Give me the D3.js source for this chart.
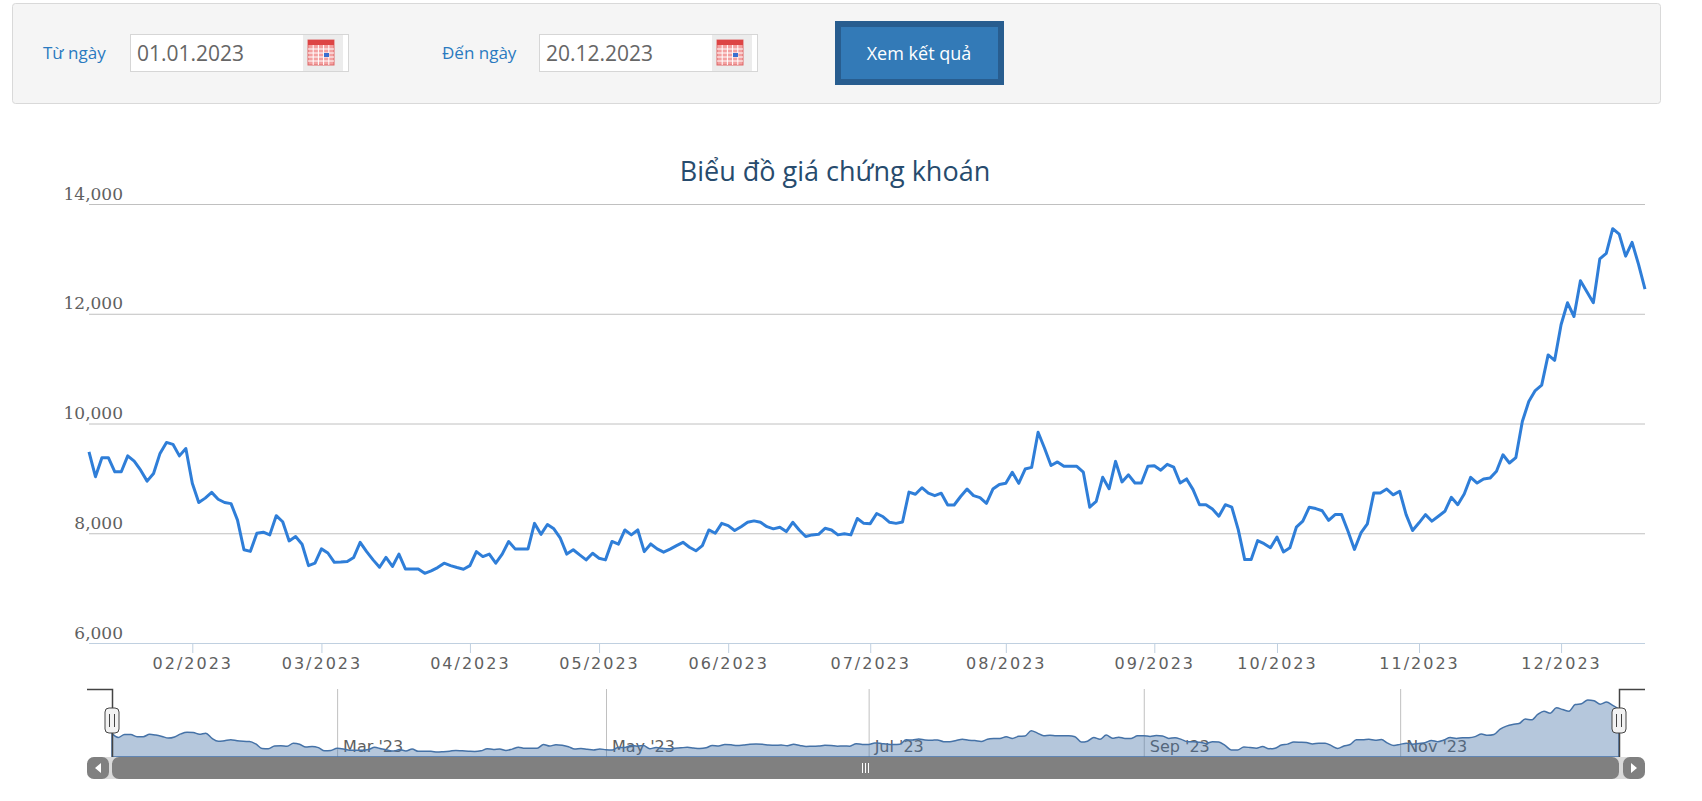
<!DOCTYPE html>
<html><head><meta charset="utf-8">
<script src="https://cdn.jsdelivr.net/npm/d3@7"></script>
<style>
body{margin:0;background:#fff;font-family:"DejaVu Sans",sans-serif;}
svg{display:block}
</style></head><body>
<svg id="c" width="1702" height="801"></svg>
<script>
// ---- data ----
const fromLabel = "Từ ngày", toLabel = "Đến ngày", fromDate = "01.01.2023", toDate = "20.12.2023";
const buttonLabel = "Xem kết quả";
const title = "Biểu đồ giá chứng khoán";
const yTicks = [6000, 8000, 10000, 12000, 14000];
const holidays = ["2023-01-02","2023-01-20","2023-01-23","2023-01-24","2023-01-25","2023-01-26",
  "2023-05-01","2023-05-02","2023-05-03","2023-09-01","2023-09-04"];
const navLabels = ["Mar '23","May '23","Jul '23","Sep '23","Nov '23"];
const prices = [
 9485,9030,9376,9376,9120,9120,9410,9315,9150,8950,9090,9455,9655,9620,9410,9545,
 8910,8560,8640,8745,8620,8560,8540,8240,7700,7670,8000,8020,7970,8320,8210,7860,7940,7800,7410,7455,
 7715,7640,7470,7475,7485,7560,7835,7665,7515,7380,7560,7395,7620,7350,7350,7350,7270,7315,7375,7455,7410,7375,7345,
 7410,7665,7575,7620,7455,7620,7850,7715,7715,7715,8180,7980,8160,8080,7910,7620,7700,7605,7515,7635,
 7545,7515,7850,7800,8060,7970,8060,7665,7805,7715,7655,7710,7775,7835,7745,7680,7775,8060,8000,8180,
 8140,8050,8120,8200,8225,8200,8120,8080,8110,8030,8200,8060,7940,7970,7980,8090,8060,7970,7990,7970,8270,8180,
 8175,8360,8300,8200,8180,8205,8750,8710,8830,8730,8685,8730,8515,8515,8670,8805,8685,8650,8545,8805,8890,
 8910,9110,8910,9170,9200,9840,9550,9235,9300,9220,9220,9220,9115,8475,8580,9020,8810,9310,8935,9065,8915,8915,9220,
 9230,9150,9255,9205,8915,8990,8795,8520,8520,8440,8310,8520,8475,8065,7520,7520,7865,7810,7735,
 7930,7660,7735,8110,8220,8475,8450,8410,8235,8340,8340,8035,7705,8005,8170,8735,8735,8805,8700,8765,8340,8050,
 8190,8340,8220,8310,8400,8655,8520,8715,9020,8915,8990,9005,9130,9430,9280,9380,10035,10400,10600,10700,11250,11150,
 11800,12200,11950,12600,12400,12200,13000,13100,13550,13450,13050,13300,12900,12450
];
// trading dates (weekdays minus holidays)
const dates = [];
for (let d = new Date(Date.UTC(2023,0,1)); d <= new Date(Date.UTC(2023,11,20)); d = new Date(d.getTime()+864e5)) {
  const wd = d.getUTCDay(), s = d.toISOString().slice(0,10);
  if (wd>0 && wd<6 && !holidays.includes(s)) dates.push(d);
}
const n = Math.min(dates.length, prices.length);
const data = d3.range(n).map(i => ({i, date: dates[i], v: prices[i]}));
const monthStarts = data.filter((d,k) => k>0 && d.date.getUTCMonth() !== data[k-1].date.getUTCMonth());

const svg = d3.select("#c");
// ---- form panel ----
svg.append("rect").attr("x",12.5).attr("y",3.5).attr("width",1648).attr("height",100).attr("rx",3)
  .attr("fill","#f5f5f5").attr("stroke","#d9d9d9");
function field(lx, label, ix, val){
  svg.append("text").attr("x",lx).attr("y",59).attr("fill","#2a7ac0").attr("font-size",17)
    .attr("font-family","Open Sans, sans-serif").text(label);
  svg.append("rect").attr("x",ix+.5).attr("y",34.5).attr("width",218).attr("height",37).attr("fill","#fff").attr("stroke","#d6d6d6");
  svg.append("text").attr("x",ix+7).attr("y",61).attr("fill","#666").attr("font-size",21)
    .attr("font-family","Open Sans, sans-serif").text(val);
  const cx = ix+178, g = svg.append("g");
  g.append("rect").attr("x",cx-5).attr("y",35).attr("width",40).attr("height",36).attr("fill","#ececec");
  g.append("rect").attr("x",cx).attr("y",40).attr("width",26).attr("height",25).attr("fill","#f3a0a0").attr("stroke","#d66","stroke-width",1);
  g.append("rect").attr("x",cx).attr("y",40).attr("width",26).attr("height",5).attr("fill","#d44");
  for(let k=1;k<5;k++){g.append("line").attr("x1",cx+k*5.2).attr("x2",cx+k*5.2).attr("y1",45).attr("y2",65).attr("stroke","#fff");
    g.append("line").attr("x1",cx).attr("x2",cx+26).attr("y1",45+k*4).attr("y2",45+k*4).attr("stroke","#fff");}
  g.append("rect").attr("x",cx+16).attr("y",53).attr("width",5).attr("height",4).attr("fill","#3a6fd0");
}
field(43, fromLabel, 130, fromDate);
field(442, toLabel, 539, toDate);
svg.append("rect").attr("x",835).attr("y",21).attr("width",169).attr("height",64).attr("fill","#285d8f");
svg.append("rect").attr("x",841).attr("y",27).attr("width",157).attr("height",52).attr("fill","#337ab7");
svg.append("text").attr("x",919).attr("y",60).attr("text-anchor","middle").attr("fill","#fff").attr("font-size",18)
  .attr("font-family","Open Sans, sans-serif").text(buttonLabel);

// ---- main chart ----
const x = d3.scaleLinear().domain([0, n-1]).range([89, 1645]);
const y = d3.scaleLinear().domain([6000, 14000]).range([643, 204]);
svg.append("text").attr("x",835).attr("y",181).attr("text-anchor","middle").attr("fill","#274b6d")
  .attr("font-size",27).attr("font-family","Open Sans, sans-serif").text(title);
const gy = svg.append("g").attr("transform","translate(1645,0)")
  .call(d3.axisLeft(y).tickValues(yTicks).tickSize(1556).tickFormat(d3.format(",")));
gy.select(".domain").remove();
gy.selectAll("line").attr("stroke","#c0c0c0");
gy.selectAll("line").filter(d=>d===6000).attr("stroke","#c0d0e0");
gy.selectAll("text").attr("x",-1522).attr("dy",-5).attr("text-anchor","end").attr("fill","#606060")
  .attr("font-size",17).attr("font-family","DejaVu Serif, serif");
const gx = svg.append("g").attr("transform","translate(0,643)")
  .call(d3.axisBottom(x).tickValues(monthStarts.map(d=>d.i)).tickSize(10)
    .tickFormat(i => d3.utcFormat("%m/%Y")(dates[i])));
gx.select(".domain").attr("stroke","#c0d0e0").attr("d","M89,0.5H1645");
gx.selectAll("line").attr("stroke","#c0d0e0");
gx.selectAll("text").attr("y",14).attr("dy","0.75em").attr("fill","#606060").attr("font-size",16)
  .attr("letter-spacing","2px").attr("font-family","DejaVu Sans, sans-serif");
svg.append("path").datum(data).attr("fill","none").attr("stroke","#2f7ed8").attr("stroke-width",3)
  .attr("stroke-linejoin","round")
  .attr("d", d3.line().x(d=>x(d.i)).y(d=>y(d.v)));

// ---- navigator ----
const xn = d3.scaleLinear().domain([0, n-1]).range([112, 1619]);
const yn = d3.scaleLinear().domain(d3.extent(prices)).range([752, 700]);
const navLines = monthStarts.filter((d,k)=>k%2===1);
navLines.forEach((d,k)=>{
  svg.append("line").attr("x1",xn(d.i)+.5).attr("x2",xn(d.i)+.5).attr("y1",689).attr("y2",757).attr("stroke","#c0c0c0");
  svg.append("text").attr("x",xn(d.i)+6).attr("y",752).attr("fill","#606060").attr("font-size",16)
    .attr("font-family","DejaVu Sans, sans-serif").text(navLabels[k]);
});
svg.append("path").datum(data).attr("fill","rgba(69,114,167,0.4)").attr("stroke","#4572a7").attr("stroke-width",1.5)
  .attr("d", d3.area().x(d=>xn(d.i)).y0(757).y1(d=>yn(d.v)).curve(d3.curveMonotoneX));
svg.append("path").attr("d","M87,689.5H112.5V757M1619.5,757V689.5H1645").attr("fill","none").attr("stroke","#444").attr("stroke-width",1.5);
[112,1619].forEach(hx=>{
  svg.append("rect").attr("x",hx-7).attr("y",708).attr("width",14).attr("height",25).attr("rx",4)
    .attr("fill","#f2f2f2").attr("stroke","#444");
  svg.append("path").attr("d",`M${hx-2.5},714V727M${hx+2.5},714V727`).attr("stroke","#444");
});
// scrollbar
svg.append("rect").attr("x",87).attr("y",757).attr("width",1558).attr("height",22).attr("rx",7).attr("fill","#dadada");
svg.append("rect").attr("x",112).attr("y",757).attr("width",1507).attr("height",22).attr("rx",7).attr("fill","#808080");
svg.append("rect").attr("x",87).attr("y",757).attr("width",22).attr("height",22).attr("rx",7).attr("fill","#808080");
svg.append("rect").attr("x",1623).attr("y",757).attr("width",22).attr("height",22).attr("rx",7).attr("fill","#808080");
svg.append("path").attr("d","M101,763L95,768L101,773Z M1631,763L1637,768L1631,773Z").attr("fill","#fff");
svg.append("path").attr("d","M862.5,763V773M865.5,763V773M868.5,763V773").attr("stroke","#fff");
</script></body></html>
